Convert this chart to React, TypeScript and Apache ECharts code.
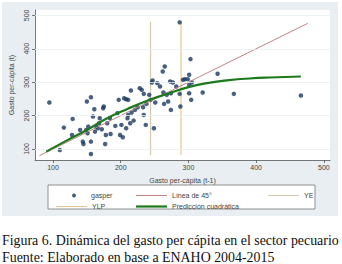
import React, { useEffect, useRef } from "react";
import * as echarts from "echarts";

const xTicks = [100, 200, 300, 400, 500];
const yTicks = [100, 200, 300, 400, 500];

// gasper: [gasto per-cápita (t-1), gasto per-cápita (t)]
const gasperX = [
  94.6, 110, 116, 129, 128, 140, 144, 145, 149, 150, 152, 156, 156, 156, 151, 159, 161, 162, 164, 166,
  168, 169, 172, 174, 175, 178, 177, 180, 184, 185, 192, 195, 197, 199, 201, 203, 205, 208, 208, 210,
  211, 211, 214, 215, 216, 219, 221, 225, 228, 231, 233, 234, 234, 237, 238, 242, 244, 246, 247, 249,
  251, 254, 258, 262, 263, 264, 265, 268, 270, 273, 287, 277, 274, 274, 288, 287, 292, 295, 299, 301,
  303, 301, 305, 301, 304, 321, 343, 367, 466, 282,
];
const gasperY = [
  239, 97, 164, 190, 142, 157, 122, 115, 157, 242, 167, 255, 122, 85, 147, 197, 219, 152, 167, 162,
  177, 192, 159, 222, 227, 142, 115, 177, 192, 145, 169, 207, 247, 142, 172, 135, 252, 249, 162, 192,
  202, 247, 177, 275, 209, 185, 217, 225, 282, 277, 225, 265, 202, 172, 235, 262, 247, 299, 305, 162,
  239, 297, 287, 332, 269, 235, 347, 262, 242, 302, 479, 299, 267, 217, 227, 265, 307, 309, 309, 322,
  369, 292, 299, 267, 247, 269, 325, 265, 260, 287,
];

const line45 = [80, 476];
const yeX = 244;
const ylpX = 289;
const vRange = [82, 481];

const fitX = [90, 120, 150, 180, 210, 240, 270, 300, 330, 360, 390, 420, 466];
const fitY = [92, 125, 157, 192, 220, 245, 266, 285, 298, 306, 311, 314, 317];

const captionLines = [
  "Figura 6. Dinámica del gasto per cápita en el sector pecuario",
  "Fuente: Elaborado en base a ENAHO 2004-2015",
];

const SANS = '"Liberation Sans", Arial, sans-serif';
const SERIF = '"Liberation Serif", "Times New Roman", serif';

export default function App() {
  const ref = useRef<HTMLDivElement>(null);
  useEffect(() => {
    if (!ref.current) return;
    const chart = echarts.init(ref.current, undefined, { renderer: "svg" });
    const axisColor = "#555";
    const labelStyle = { fontSize: 7, color: "#444", fontFamily: SANS };
    const lineLegend = (name: string, left: number, top: number, h: number, pad = 0) => ({
      data: [{ name, icon: "rect" }],
      left,
      top,
      itemWidth: 31,
      itemHeight: h,
      textStyle: { ...labelStyle, padding: [0, 0, 0, pad] },
      selectedMode: false,
    });
    chart.setOption({
      animation: false,
      backgroundColor: "#ffffff",
      grid: {
        left: 35,
        top: 10,
        width: 295,
        height: 150,
        show: true,
        backgroundColor: "#ffffff",
        borderWidth: 0,
      },
      xAxis: {
        type: "value",
        min: 73.4,
        max: 509,
        name: "Gasto per-cápita (t-1)",
        nameLocation: "middle",
        nameGap: 17,
        nameTextStyle: labelStyle,
        axisLine: { show: true, lineStyle: { color: axisColor, width: 0.8 } },
        axisTick: { show: true, customValues: xTicks, length: 3, lineStyle: { color: axisColor, width: 0.8 } },
        axisLabel: { ...labelStyle, customValues: xTicks, margin: 4 },
        splitLine: { show: false },
      },
      yAxis: {
        type: "value",
        min: 67,
        max: 516,
        name: "Gasto per-cápita (t)",
        nameLocation: "middle",
        nameGap: 20,
        nameTextStyle: labelStyle,
        axisLine: { show: true, lineStyle: { color: axisColor, width: 0.8 } },
        axisTick: { show: true, customValues: yTicks, length: 3, lineStyle: { color: axisColor, width: 0.8 } },
        axisLabel: { ...labelStyle, customValues: yTicks, rotate: 90, margin: 5 },
        splitLine: { show: false },
      },
      legend: [
        {
          data: ["gasper"],
          left: 67,
          top: 187,
          itemWidth: 4,
          itemHeight: 4,
          textStyle: { ...labelStyle, padding: [0, 0, 0, 10] },
          selectedMode: false,
        },
        lineLegend("YLP", 51, 198, 1),
        lineLegend("Línea de 45°", 131, 187, 1),
        lineLegend("Predicción cuadrática", 131, 198, 2.2),
        lineLegend("YE", 263, 187, 1, 0),
      ],
      graphic: [
        {
          type: "rect",
          z: -10,
          shape: { x: 2, y: 2, width: 336, height: 214 },
          style: { fill: "#e8eef1" },
          silent: true,
        },
        {
          type: "rect",
          z: 1,
          shape: { x: 48, y: 185, width: 267, height: 24 },
          style: { fill: "#ffffff", stroke: "#777", lineWidth: 0.8 },
          silent: true,
        },
        ...captionLines.map((t, i) => ({
          type: "text",
          z: 5,
          x: 2,
          y: 240 + i * 17,
          style: {
            text: t,
            fontSize: 13.9,
            fontFamily: SERIF,
            fill: "#111",
            verticalAlign: "middle",
          },
          silent: true,
        })),
      ],
      series: [
        {
          name: "grid",
          type: "line",
          z: 1,
          data: [],
          markLine: {
            silent: true,
            symbol: "none",
            label: { show: false },
            lineStyle: { color: "#e9eff2", width: 0.8, type: "solid" },
            data: yTicks.map((v) => ({ yAxis: v })),
          },
        },
        {
          name: "YE",
          type: "line",
          symbol: "none",
          z: 2,
          lineStyle: { color: "#d4c8ae", width: 1.2 },
          itemStyle: { color: "#d4c8ae" },
          data: vRange.map((v) => [yeX, v]),
        },
        {
          name: "YLP",
          type: "line",
          symbol: "none",
          z: 2,
          lineStyle: { color: "#e8c48e", width: 1.2 },
          itemStyle: { color: "#e8c48e" },
          data: vRange.map((v) => [ylpX, v]),
        },
        {
          name: "gasper",
          type: "scatter",
          symbol: "circle",
          symbolSize: 4.5,
          z: 3,
          itemStyle: { color: "#1a3a60" },
          data: gasperX.map((x, i) => [x, gasperY[i]]),
        },
        {
          name: "Línea de 45°",
          type: "line",
          symbol: "none",
          z: 4,
          lineStyle: { color: "#c08484", width: 1 },
          itemStyle: { color: "#c08484" },
          data: line45.map((v) => [v, v]),
        },
        {
          name: "Predicción cuadrática",
          type: "line",
          symbol: "none",
          smooth: true,
          z: 5,
          lineStyle: { color: "#1c7a1c", width: 2.2 },
          itemStyle: { color: "#1c7a1c" },
          data: fitX.map((x, i) => [x, fitY[i]]),
        },
      ],
    });
    return () => chart.dispose();
  }, []);
  return (
    <div
      ref={ref}
      style={{ position: "fixed", left: 0, top: 0, width: 342, height: 264, background: "#fff" }}
    />
  );
}
